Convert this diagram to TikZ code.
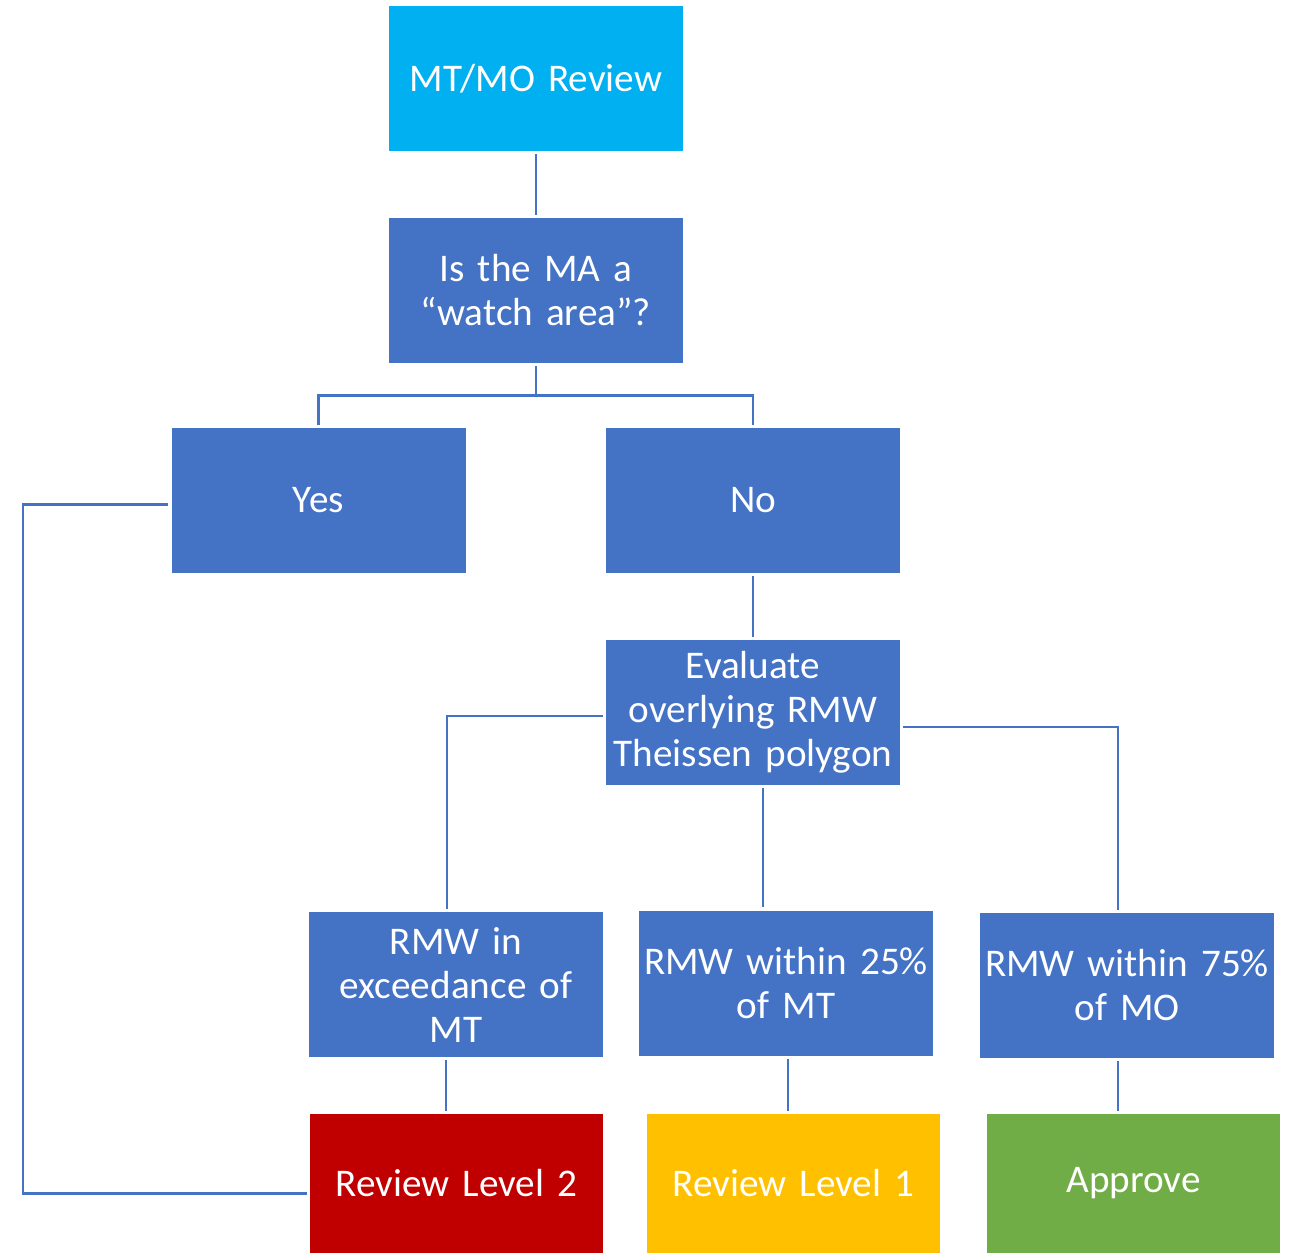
\documentclass[tikz,border=0pt]{standalone}
\usepackage{fontspec}
\setmainfont{Carlito}
\usetikzlibrary{calc}
\definecolor{boxblue}{HTML}{4472C4}
\definecolor{topcyan}{HTML}{00B0F0}
\definecolor{lvltwo}{HTML}{C00000}
\definecolor{lvlone}{HTML}{FFC000}
\definecolor{okgreen}{HTML}{70AD47}
\newcommand{\boxfont}{\fontsize{19.6}{22}\selectfont\fontdimen2\font=0.2em\fontdimen3\font=0pt\fontdimen4\font=0pt}

\begin{document}
\begin{tikzpicture}[x=0.5pt, y=-0.5pt,
    box/.style={fill=boxblue, text=white, minimum width=147pt, minimum height=72.5pt,
        text width=146pt, align=center, inner sep=0pt, font=\boxfont},
    level/.style={box, minimum width=146.5pt, minimum height=69.5pt},
    link/.style={draw=boxblue, line width=1.3pt, shorten <=1.5pt, shorten >=1.5pt}]
    \useasboundingbox (0,0) rectangle (1294,1253);

    % boxes
    \node[box, fill=topcyan] (review) at (536,78.5) {MT/MO Review};
    \node[box] (watch) at (536,290.5) {Is the MA a\\“watch area”?};
    \node[box] (yes) at (318.5,500.5) {Yes};
    \node[box] (no) at (753,500.5) {No};
    \node[box] (eval) at (753,712.5) {Evaluate\\overlying RMW\\Theissen polygon};
    \node[box] (exceed) at (456,984.5) {RMW in\\exceedance of\\MT};
    \node[box] (within25) at (786,983) {RMW within 25\%\\of MT};
    \node[box] (within75) at (1127,985.5) {RMW within 75\%\\of MO};
    \node[level, fill=lvltwo] (level2) at (456.5,1183.5) {Review Level 2};
    \node[level, fill=lvlone] (level1) at (793.5,1183.5) {Review Level 1};
    \node[level, fill=okgreen] (approve) at (1133.5,1183.5) {Approve};

    % connectors
    \coordinate (rail) at (23,0);
    \draw[link] (review) -- (watch);
    \draw[link] (watch.south) -- ++(0,32) -| (yes.north);
    \draw[link] (watch.south) -- ++(0,32) -| (no.north);
    \draw[link] (no) -- (eval);
    \draw[link] ([yshift=-2pt]yes.west) -| ([yshift=-5pt]level2.west -| rail) -- ([yshift=-5pt]level2.west);
    \draw[link] ([yshift=-1.75pt]eval.west) -| ([xshift=-4.5pt]exceed.north);
    \draw[link] ([xshift=5pt]eval.south) -- ([xshift=5pt]eval.south |- within25.north);
    \draw[link] ([yshift=-7.25pt]eval.east) -| ([xshift=-4.5pt]within75.north);
    \draw[link] ([xshift=-5pt]exceed.south) -- ([xshift=-5pt]exceed.south |- level2.north);
    \draw[link] ([xshift=1pt]within25.south) -- ([xshift=1pt]within25.south |- level1.north);
    \draw[link] ([xshift=-4.5pt]within75.south) -- ([xshift=-4.5pt]within75.south |- approve.north);
\end{tikzpicture}
\end{document}
